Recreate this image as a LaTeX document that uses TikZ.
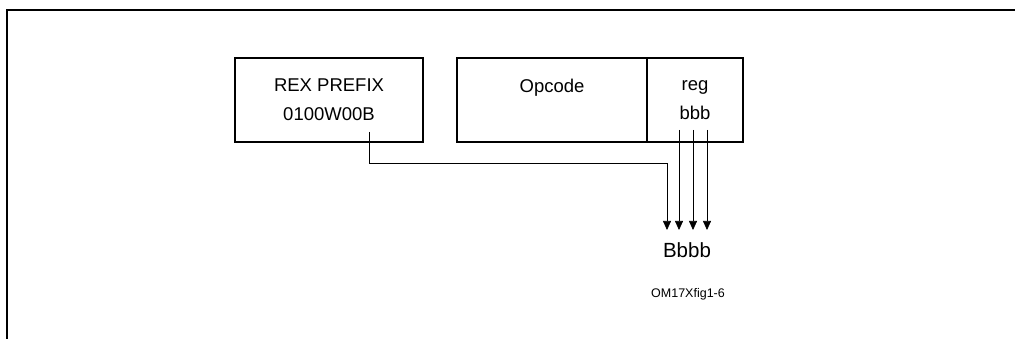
\documentclass[tikz,border=0pt]{standalone}
\usepackage{fontspec}
\setmainfont{Liberation Sans}
\usetikzlibrary{positioning,arrows.meta,calc}

\begin{document}
\begin{tikzpicture}[x=1pt,y=-1pt,>={Triangle[length=9pt,width=8pt]},
  field/.style={draw,line width=1.1pt,align=center,minimum height=84pt,
                inner sep=0pt,outer sep=0pt,font=\fontsize{18.5}{29}\selectfont},
  wire/.style={line width=0.7pt}]
\useasboundingbox (0,0) rectangle (1015,339);
% page frame
\draw[line width=2pt] (7,339) |- (1015,10);
% instruction fields
\node[field,minimum width=188pt] (rex) at (329,100) {REX PREFIX\\0100W00B};
\node[field,minimum width=190pt] (opc) at (552,100) {Opcode\\\mbox{}};
\node[field,minimum width=96pt,right=0pt of opc] (reg) {reg\\bbb};
% result
\node[font=\fontsize{20.5}{24}\selectfont] (bbbb) at (687,250) {Bbbb};
\node[font=\fontsize{12.5}{15}\selectfont] (fig) at (688,294) {OM17Xfig1-6};
\foreach \i/\x in {0/667,1/679,2/693,3/707}
  \coordinate (tip\i) at (\x,230);
\coordinate (rexout) at ($(rex.south)+(40,-10)$);
\draw[->,wire] (rexout) -- ++(0,31) -| (tip0);
\foreach \i in {1,2,3}
  \draw[->,wire] ($(reg.south -| tip\i)+(0,-12)$) -- (tip\i);
\end{tikzpicture}
\end{document}
